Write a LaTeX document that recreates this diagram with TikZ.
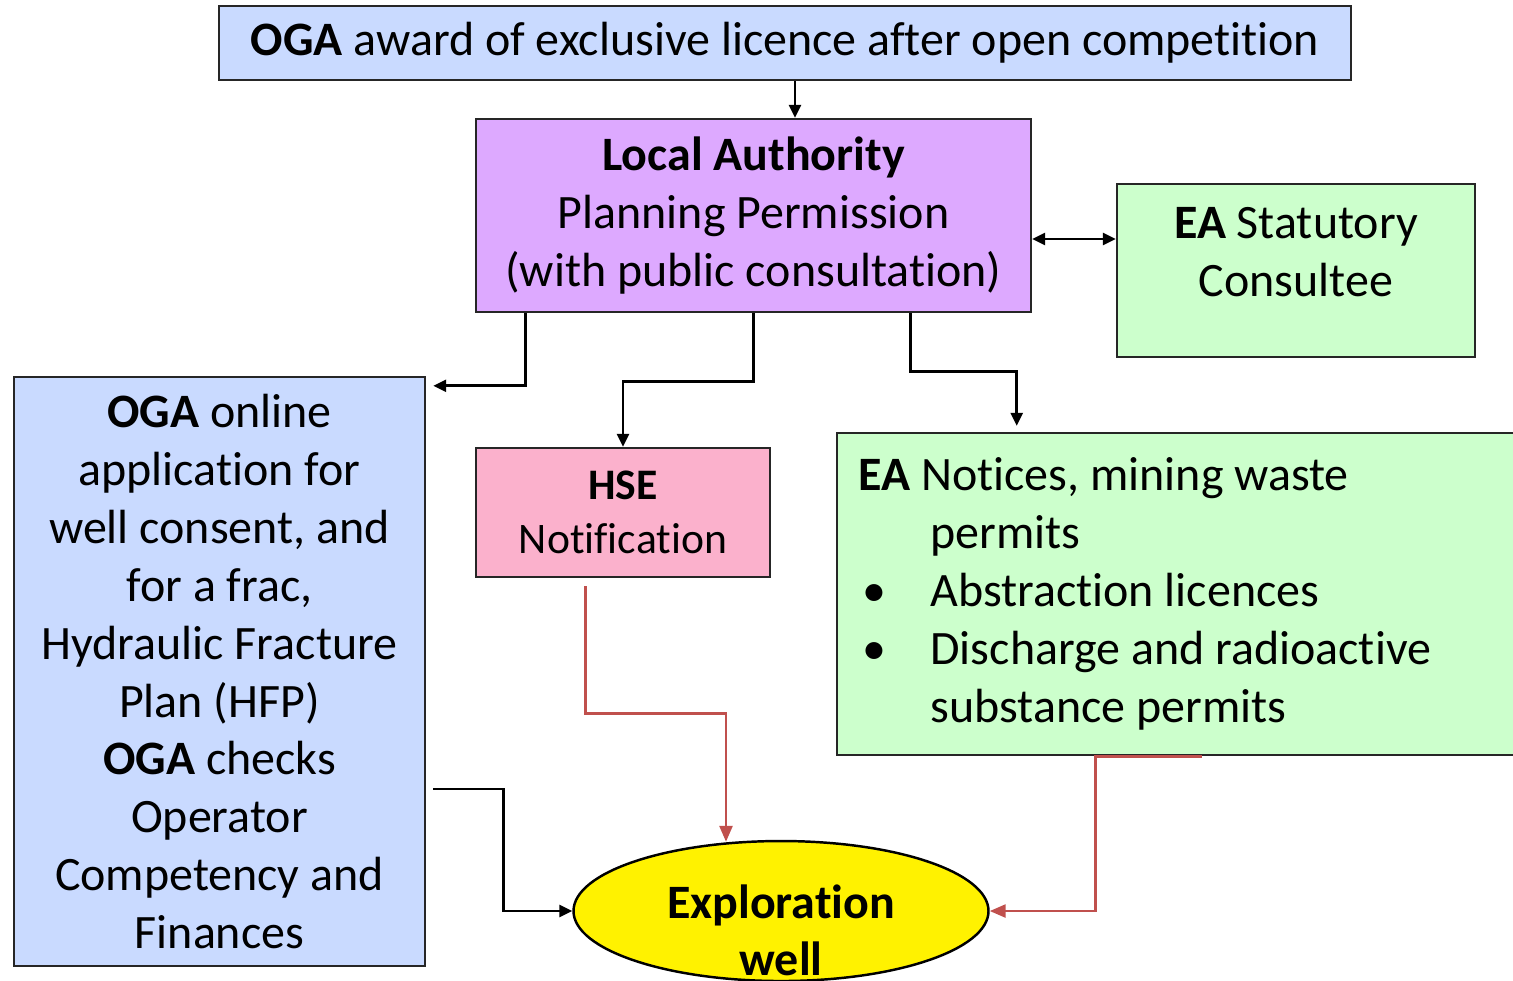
\documentclass[tikz,border=0pt]{standalone}
\usepackage{fontspec}
\setmainfont{Carlito}[Ligatures=NoCommon]
\usetikzlibrary{shapes,arrows,arrows.meta}

\definecolor{ogablue}{RGB}{201,218,255}
\definecolor{lapurple}{RGB}{221,169,255}
\definecolor{eagreen}{RGB}{204,255,204}
\definecolor{hsepink}{RGB}{251,177,204}
\definecolor{redline}{RGB}{192,80,77}

\begin{document}
\begin{tikzpicture}[every node/.style={font=\fontsize{13.65}{16.5}\selectfont},
    box/.style={draw=black!85,line width=0.7pt,align=center,inner sep=0pt},
    link/.style={line width=0.75pt,-{Triangle[length=1.3mm,width=1.2mm]}},
    dlink/.style={line width=0.75pt,{Triangle[length=1.3mm,width=1.2mm]}-{Triangle[length=1.3mm,width=1.2mm]}},
    redlink/.style={draw=redline,line width=0.75pt,-{Triangle[length=1.6mm,width=1.3mm]}}]
      \useasboundingbox (0,0) rectangle (15.13,-9.80);

      \node[box,fill=ogablue, minimum width=11.32cm,minimum height=0.74cm] (OgaAward)  at (7.85,-0.43)   {\textbf{OGA} award of exclusive licence after open competition};
      \node[box,fill=lapurple,minimum width=5.55cm, minimum height=1.93cm] (LocalAuth) at (7.535,-2.155) {\textbf{Local Authority}\\Planning Permission\\(with public consultation)};
      \node[box,fill=eagreen, minimum width=3.58cm, minimum height=1.73cm] (EaConsult) at (12.96,-2.705) {\begin{tabular}{@{}c@{}}\textbf{EA} Statutory\\Consultee\\[0.30cm]\end{tabular}};
      \node[box,fill=ogablue, minimum width=4.11cm, minimum height=5.89cm] (OgaOnline) at (2.195,-6.715) {\textbf{OGA} online\\application for\\well consent, and\\for a frac,\\Hydraulic Fracture\\Plan (HFP)\\\textbf{OGA} checks\\Operator\\Competency and\\Finances};
      \node[box,fill=hsepink, minimum width=2.94cm, minimum height=1.29cm,font=\fontsize{12.4}{15.4}\selectfont] (HseNote) at (6.23,-5.125) {\textbf{HSE}\\Notification};
      \node[box,fill=eagreen, minimum width=6.93cm, minimum height=3.22cm,text width=6.5cm,align=left] (EaNotices) at (11.835,-5.94)
           {\spaceskip=0pt\xspaceskip=0pt
            \textbf{EA} Notices, mining waste\\
            \hspace*{0.72cm}permits\\
            \makebox[0.72cm][l]{\hspace{0.04cm}\textbullet}Abstraction licences\\
            \makebox[0.72cm][l]{\hspace{0.04cm}\textbullet}Discharge and radioactive\\
            \hspace*{0.72cm}substance permits};
      \node[draw,ellipse,fill=yellow,line width=0.7pt,minimum width=4.15cm,minimum height=1.40cm,inner sep=0pt,
            label={[yshift=-0.19cm,align=center,font=\fontsize{13.65}{16.2}\selectfont\bfseries]center:Exploration\\well}] (ExplWell) at (7.81,-9.11) {};

      % black connectors
      \draw[link]  ([xshift=0.1cm]OgaAward.south) -- ([xshift=0.1cm]OgaAward.south |- LocalAuth.north);
      \draw[dlink] ([yshift=-0.235cm]LocalAuth.east) -- ([yshift=-0.235cm]LocalAuth.east -| EaConsult.west);
      \draw[link]  ([xshift=0.51cm]LocalAuth.south west) |- ([xshift=0.07cm,yshift=-0.10cm]OgaOnline.north east);
      \draw[link]  (LocalAuth.south) -- ++(0,-0.68) -| (HseNote.north);
      \draw[link]  ([xshift=-1.22cm]LocalAuth.south east) -- ++(0,-0.58) -| ([xshift=1.81cm,yshift=0.06cm]EaNotices.north west);
      \draw[link]  ([xshift=0.07cm,yshift=-1.175cm]OgaOnline.east) -- ++(0.70,0) |- (ExplWell.west);

      % red connectors
      \draw[redlink] ([xshift=1.11cm,yshift=-0.08cm]HseNote.south west) -- ++(0,-1.27) -| ([xshift=-0.55cm,yshift=-0.02cm]ExplWell.north);
      \draw[redlink] ([xshift=3.66cm]EaNotices.south west) -- ([xshift=2.60cm]EaNotices.south west) |- (ExplWell.east);

\end{tikzpicture}
\end{document}
